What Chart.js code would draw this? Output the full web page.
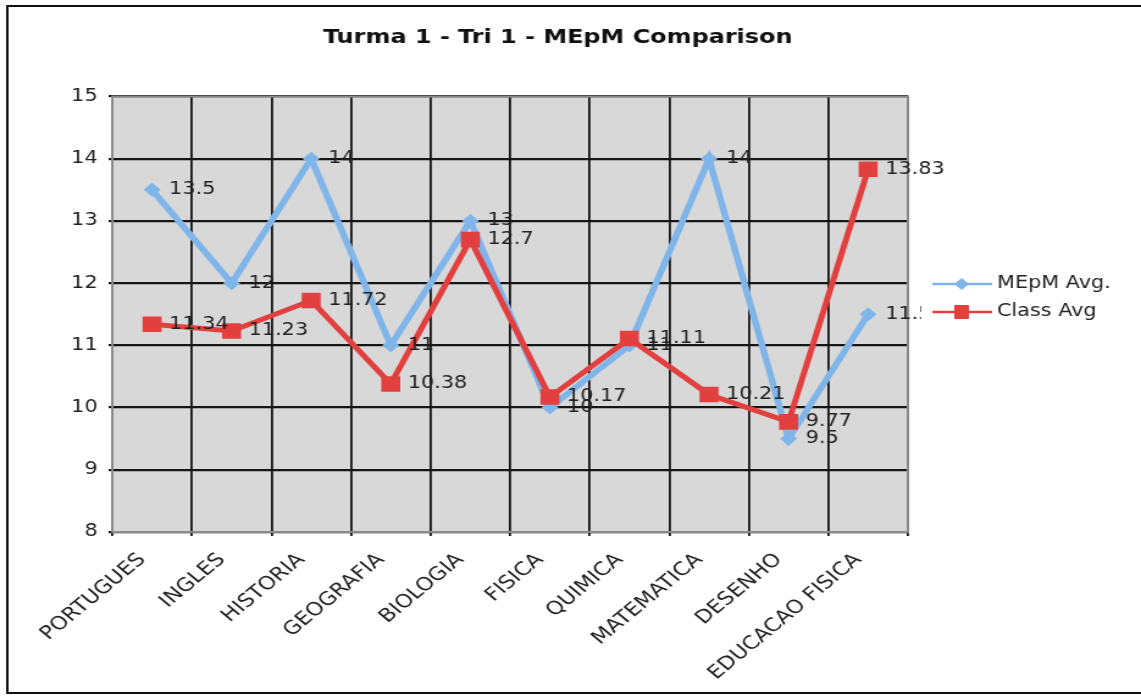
<!DOCTYPE html>
<html>
<head>
<meta charset="utf-8">
<script src="https://cdn.jsdelivr.net/npm/chart.js@4/dist/chart.umd.min.js"></script>
<style>
  html, body { margin: 0; padding: 0; background: #fff; overflow: hidden; }
  canvas { display: block; }
</style>
</head>
<body>
<!-- drawn at 935 wide and stretched to 1141, like the original picture -->
<canvas id="chart" width="935" height="696" style="width:1141px;height:696px"></canvas>
<script>
const subjects = ['PORTUGUES', 'INGLES', 'HISTORIA', 'GEOGRAFIA', 'BIOLOGIA', 'FISICA', 'QUIMICA', 'MATEMATICA', 'DESENHO', 'EDUCACAO FISICA'];
const mepmAvg = [13.5, 12, 14, 11, 13, 10, 11, 14, 9.5, 11.5];
const classAvg = [11.34, 11.23, 11.72, 10.38, 12.7, 10.17, 11.11, 10.21, 9.77, 13.83];
const yTicks = [8, 9, 10, 11, 12, 13, 14, 15];

const FONT = "'DejaVu Sans', Verdana, sans-serif";
const BLUE = '#80b5ea';
const RED = '#e2403f';

// grey plot area + outer frame
const backdrop = {
    id: 'backdrop',
    beforeDraw(chart) {
        const ctx = chart.ctx;
        const a = chart.chartArea;
        ctx.save();
        ctx.fillStyle = '#fff';
        ctx.fillRect(0, 0, chart.width, chart.height);
        ctx.strokeStyle = '#111';
        ctx.lineWidth = 2;
        ctx.strokeRect(6, 6, chart.width + 10, 687);
        ctx.fillStyle = '#d8d8d8';
        ctx.fillRect(a.left, a.top, a.right - a.left, a.bottom - a.top);
        ctx.restore();
    },
    beforeDatasetsDraw(chart) {
        const ctx = chart.ctx;
        const a = chart.chartArea;
        ctx.save();
        ctx.strokeStyle = '#8a8a8a';
        ctx.lineWidth = 2;
        ctx.strokeRect(a.left, a.top, a.right - a.left, a.bottom - a.top);
        ctx.restore();
    },
    afterLayout(chart) {
        // title sits a bit left of the canvas centre
        chart.titleBlock.left = 0;
        chart.titleBlock.right = 914;
    }
};

// value next to every point
const pointLabels = {
    id: 'pointLabels',
    afterDatasetsDraw(chart) {
        const ctx = chart.ctx;
        ctx.save();
        ctx.font = '17px ' + FONT;
        ctx.fillStyle = '#222';
        ctx.textAlign = 'left';
        ctx.textBaseline = 'middle';
        chart.data.datasets.forEach((ds, i) => {
            chart.getDatasetMeta(i).data.forEach((pt, j) => {
                ctx.fillText(String(ds.data[j]), pt.x + 14, pt.y);
            });
        });
        ctx.restore();
    }
};

// legend: line with marker, then the name
const lineLegend = {
    id: 'lineLegend',
    afterDraw(chart) {
        const ctx = chart.ctx;
        ctx.save();
        ctx.fillStyle = '#fff';
        ctx.fillRect(755, 268, 180, 60);
        const items = [
            {text: 'MEpM Avg.', color: BLUE, y: 284, shape: 'diamond'},
            {text: 'Class Avg', color: RED, y: 312, shape: 'square'}
        ];
        items.forEach(it => {
            ctx.strokeStyle = it.color;
            ctx.lineWidth = 2.5;
            ctx.beginPath();
            ctx.moveTo(764, it.y);
            ctx.lineTo(813, it.y);
            ctx.stroke();
            ctx.fillStyle = it.color;
            ctx.beginPath();
            if (it.shape === 'diamond') {
                ctx.moveTo(788, it.y - 6);
                ctx.lineTo(794, it.y);
                ctx.lineTo(788, it.y + 6);
                ctx.lineTo(782, it.y);
                ctx.closePath();
            } else {
                ctx.rect(782, it.y - 7, 12, 14);
            }
            ctx.fill();
            ctx.fillStyle = '#222';
            ctx.font = '17px ' + FONT;
            ctx.textAlign = 'left';
            ctx.textBaseline = 'middle';
            ctx.fillText(it.text, 817, it.y);
        });
        ctx.restore();
    }
};

const chart = new Chart(document.getElementById('chart').getContext('2d'), {
    type: 'line',
    data: {
        labels: subjects,
        datasets: [
            {
                label: 'MEpM Avg.',
                data: mepmAvg,
                borderColor: BLUE,
                backgroundColor: BLUE,
                borderWidth: 5.5,
                pointStyle: 'rectRot',
                pointRadius: 7,
                pointBorderWidth: 0,
                tension: 0,
                order: 1
            },
            {
                label: 'Class Avg',
                data: classAvg,
                borderColor: RED,
                backgroundColor: RED,
                borderWidth: 5,
                pointStyle: 'rect',
                pointRadius: 11,
                pointBorderWidth: 0,
                tension: 0,
                order: 0
            }
        ]
    },
    options: {
        responsive: false,
        animation: false,
        devicePixelRatio: 1,
        layout: {padding: {left: 0, right: 191, top: 10, bottom: 0}},
        plugins: {
            legend: {display: false},
            tooltip: {enabled: false},
            title: {
                display: true,
                text: 'Turma 1 - Tri 1 - MEpM Comparison',
                color: '#111',
                font: {family: FONT, size: 19.6, weight: 'bold'},
                padding: {top: 16, bottom: 47}
            }
        },
        scales: {
            x: {
                offset: true,
                grid: {offset: true, color: '#151515', lineWidth: 1.8, tickLength: 4},
                border: {display: false},
                ticks: {
                    autoSkip: false,
                    minRotation: 45,
                    maxRotation: 45,
                    padding: 13,
                    labelOffset: -8,
                    color: '#222',
                    font: {family: FONT, size: 18.5}
                },
                afterFit(scale) { scale.height = 164; }
            },
            y: {
                min: yTicks[0],
                max: yTicks[yTicks.length - 1],
                afterBuildTicks(scale) { scale.ticks = yTicks.map(v => ({value: v})); },
                grid: {color: '#151515', lineWidth: 2.2, tickLength: 3},
                border: {display: false},
                ticks: {padding: 9, color: '#222', font: {family: FONT, size: 17}},
                afterFit(scale) { scale.width = 92; }
            }
        }
    },
    plugins: [backdrop, pointLabels, lineLegend]
});
</script>
</body>
</html>
